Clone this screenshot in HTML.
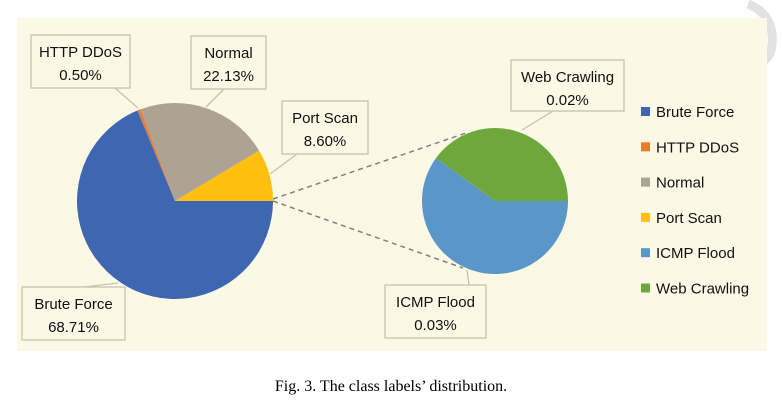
<!DOCTYPE html>
<html><head><meta charset="utf-8">
<style>
body{margin:0;background:#fff;width:782px;height:406px;overflow:hidden;font-family:"Liberation Sans",sans-serif}
svg text{font-family:"Liberation Sans",sans-serif}
</style></head>
<body>
<svg width="782" height="406" viewBox="0 0 782 406">
<path d="M748 4 Q775 15 772 45 Q770 60 760 62" stroke="#e2e2e2" stroke-width="9" fill="none"/>
<rect x="17" y="18" width="750" height="333" fill="#fbf8e6"/>
<g id="g"></g>
<text x="391" y="391" text-anchor="middle" font-size="16" style="font-family:'Liberation Serif',serif">Fig. 3.  The class labels’ distribution.</text>
</svg>
<script>
const mainCats=["Port Scan","Normal","HTTP DDoS","Other","Brute Force"];
const mainVals=[8.60,22.13,0.50,0.05,68.71];
const subCats=["Web Crawling","ICMP Flood"];
const subVals=[0.02,0.03];
const legendCats=["Brute Force","HTTP DDoS","Normal","Port Scan","ICMP Flood","Web Crawling"];
const pctLabels={"Brute Force":"68.71%","HTTP DDoS":"0.50%","Normal":"22.13%","Port Scan":"8.60%","ICMP Flood":"0.03%","Web Crawling":"0.02%"};
const colors={"Brute Force":"#3f67b1","HTTP DDoS":"#ee7a30","Normal":"#aea393","Port Scan":"#fdc00f","ICMP Flood":"#5b96c8","Web Crawling":"#6ea83c","Other":"#3f67b1"};
const NS="http://www.w3.org/2000/svg";
const g=document.getElementById('g');
function mk(t,a){const e=document.createElementNS(NS,t);for(const k in a)e.setAttribute(k,a[k]);g.appendChild(e);return e;}
function pt(cx,cy,r,deg){const a=deg*Math.PI/180;return [cx+r*Math.cos(a),cy-r*Math.sin(a)];}
function pie(cats,vals,cx,cy,r,prefix){
  const tot=vals.reduce((a,b)=>a+b,0);let s=0;
  cats.forEach((c,i)=>{
    const a0=s/tot*360,a1=(s+vals[i])/tot*360;s+=vals[i];
    const p0=pt(cx,cy,r,a0),p1=pt(cx,cy,r,a1);
    const large=(a1-a0)>180?1:0;
    const p=mk('path',{d:`M${cx},${cy}L${p0[0]},${p0[1]}A${r},${r} 0 ${large} 0 ${p1[0]},${p1[1]}Z`,fill:colors[c]});
    
    
  });
}
[[273,199,466,133],[273,201,463,268]].forEach((l,i)=>{
  const e=mk('line',{x1:l[0],y1:l[1],x2:l[2],y2:l[3],stroke:'#808080','stroke-width':1.5,'stroke-dasharray':'5,4'});
  
  
});
pie(mainCats,mainVals,175,201,98,'main');
pie(subCats,subVals,495,201,73,'sub');
const callouts=[
 ["HTTP DDoS",31,35,99,53,"115,88 138,108"],
 ["Normal",191,36,75,53,"224,89 206,107"],
 ["Port Scan",282,101,86,53,"297,154 270,174"],
 ["Brute Force",22,287,103,53,"84,287 118,283"],
 ["Web Crawling",511,60,113,51,"553,111 522,130"],
 ["ICMP Flood",385,285,101,53,"469,285 467,270"]
];
callouts.forEach(c=>{
  const [n,x,y,w,h,lp]=c;
  const l=mk('polyline',{points:lp,stroke:'#c8c2ac','stroke-width':1.3,fill:'none'});
  
  
  const r=mk('rect',{x:x,y:y,width:w,height:h,fill:'#fbf8e6',stroke:'#c8c2ac','stroke-width':1.3});
  
  
  const t1=mk('text',{x:x+w/2,y:y+22,'text-anchor':'middle','font-size':15,fill:'#111'});t1.textContent=n;
  
  
  const t2=mk('text',{x:x+w/2,y:y+45,'text-anchor':'middle','font-size':15,fill:'#111'});t2.textContent=pctLabels[n];
  
  
});
legendCats.forEach((c,i)=>{
  const y=112+i*35.3;
  const s=mk('rect',{x:641,y:y-5,width:9,height:9,fill:colors[c]});
  
  
  const t=mk('text',{x:656,y:y+5,'font-size':15,fill:'#111'});t.textContent=c;
  
  
});
</script>
</body></html>
